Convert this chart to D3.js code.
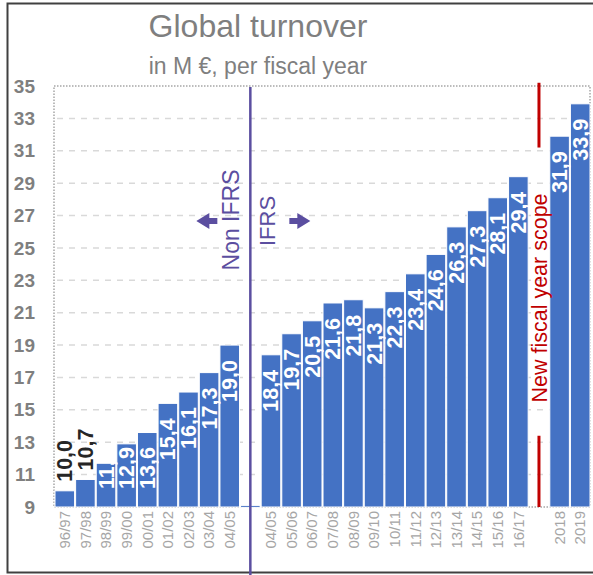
<!DOCTYPE html>
<html>
<head>
<meta charset="utf-8">
<script src="https://cdn.jsdelivr.net/npm/d3@7"></script>
<style>
  body { margin: 0; background: #fff; }
  svg { display: block; font-family: "Liberation Sans", Arial, sans-serif; }
</style>
</head>
<body>
<div id="chart"></div>
<script>
// fiscal years; "" = empty slot between the periods
var categories = ["96/97", "97/98", "98/99", "99/00", "00/01", "01/02", "02/03", "03/04", "04/05", "",
                  "04/05", "05/06", "06/07", "07/08", "08/09", "09/10", "10/11", "11/12", "12/13",
                  "13/14", "14/15", "15/16", "16/17", "", "2018", "2019"];
// turnover in M EUR (null = no bar)
var turnover = [10.0, 10.7, 11.7, 12.9, 13.6, 15.4, 16.1, 17.3, 19.0, 9.1,
                18.4, 19.7, 20.5, 21.6, 21.8, 21.3, 22.3, 23.4, 24.6,
                26.3, 27.3, 28.1, 29.4, null, 31.9, 33.9];
var yTicks = [9, 11, 13, 15, 17, 19, 21, 23, 25, 27, 29, 31, 33, 35];

var width = 593, height = 575;
// plot area (note: "top" is reserved on window, so use plot* names)
var plotLeft = 55, plotRight = 590, plotTop = 86, plotBottom = 507;
var BAR_COLOR = "#4472c4";

var svg = d3.select("#chart").append("svg")
    .attr("width", width)
    .attr("height", height);

// outer frame
svg.append("rect")
    .attr("x", 7.5).attr("y", 3.5)
    .attr("width", 600).attr("height", 569)
    .attr("fill", "none")
    .attr("stroke", "#404040")
    .attr("stroke-width", 2);

// titles
svg.append("text")
    .attr("x", 258).attr("y", 37)
    .attr("text-anchor", "middle")
    .attr("font-size", 32)
    .attr("fill", "#7f7f7f")
    .text("Global turnover");
svg.append("text")
    .attr("x", 258).attr("y", 74)
    .attr("text-anchor", "middle")
    .attr("font-size", 23)
    .attr("fill", "#7f7f7f")
    .text("in M €, per fiscal year");

var x = d3.scaleBand()
    .domain(d3.range(categories.length))
    .range([plotLeft, plotRight])
    .paddingInner(0.05);

var y = d3.scaleLinear()
    .domain([9, 35])
    .range([plotBottom, plotTop]);

// grid
svg.append("g")
    .selectAll("line")
    .data(yTicks.slice(1, -1))
    .enter()
    .append("line")
    .attr("x1", plotLeft + 2).attr("x2", plotRight)
    .attr("y1", function(d){ return y(d); })
    .attr("y2", function(d){ return y(d); })
    .attr("stroke", "#d9d9d9")
    .attr("stroke-width", 1.5)
    .attr("stroke-dasharray", "6,6");

// y axis labels
var yAxis = svg.append("g")
    .attr("transform", "translate(35,0)")
    .call(d3.axisLeft(y).tickValues(yTicks).tickSize(0).tickPadding(0));
yAxis.select(".domain").remove();
yAxis.selectAll("text")
    .attr("font-family", "Liberation Sans, Arial, sans-serif")
    .attr("font-size", 19)
    .attr("font-weight", "bold")
    .attr("fill", "#7f7f7f");

// plot border (dotted)
svg.append("rect")
    .attr("x", plotLeft - 1).attr("y", plotTop)
    .attr("width", plotRight - plotLeft + 1).attr("height", plotBottom - plotTop)
    .attr("fill", "none")
    .attr("stroke", "#a6a6a6")
    .attr("stroke-width", 1.5)
    .attr("stroke-dasharray", "1.5,1.5");

// bars
var bars = turnover.map(function(v, i){ return { i: i, v: v }; })
    .filter(function(d){ return d.v !== null; });

svg.append("g")
    .selectAll("rect")
    .data(bars)
    .enter()
    .append("rect")
    .attr("x", function(d){ return x(d.i); })
    .attr("width", x.bandwidth())
    .attr("y", function(d){ return y(d.v); })
    .attr("height", function(d){ return Math.max(2, plotBottom - y(d.v)); })
    .attr("fill", BAR_COLOR)
    .attr("stroke", "#fff")
    .attr("stroke-width", 1);

// x labels
svg.append("g")
    .selectAll("text")
    .data(categories.map(function(c, i){ return { i: i, c: c }; }))
    .enter()
    .append("text")
    .attr("transform", function(d){
        return "translate(" + (x(d.i) + x.bandwidth() / 2) + "," + (plotBottom + 4) + ") rotate(-90)";
    })
    .attr("dy", "0.35em")
    .attr("text-anchor", "end")
    .attr("font-size", 15)
    .attr("fill", "#a6a6a6")
    .text(function(d){ return d.c; });

// value labels
svg.append("clipPath").attr("id", "plotClip")
    .append("rect")
    .attr("x", plotLeft).attr("y", plotTop - 40)
    .attr("width", plotRight - plotLeft).attr("height", plotBottom - plotTop + 40);

var labelG = svg.append("g").attr("clip-path", "url(#plotClip)");
bars.filter(function(d){ return d.v > 9.5; }).forEach(function(d){
    var cx = x(d.i) + x.bandwidth() / 2;
    var barTop = y(d.v);
    var t = labelG.append("text")
        .attr("dy", "0.35em")
        .attr("font-size", 21.5)
        .attr("font-weight", "bold")
        .text(d3.format(".1f")(d.v).replace(".", ","));
    var len = t.node().getComputedTextLength();
    if (plotBottom - barTop < len) {
        // too short: label sits above the bar
        t.attr("transform", "translate(" + cx + "," + (barTop - 9) + ") rotate(-90)")
            .attr("text-anchor", "start")
            .attr("fill", "#262626");
    } else {
        var end = Math.min(barTop + 15, 489 - len);
        t.attr("transform", "translate(" + cx + "," + end + ") rotate(-90)")
            .attr("text-anchor", "end")
            .attr("fill", "#fff");
    }
});

// IFRS separator
var ifrsX = x(9) + x.bandwidth() / 2;
var PURPLE = "#5b4ea0";
svg.append("line")
    .attr("x1", ifrsX).attr("x2", ifrsX)
    .attr("y1", plotTop + 1).attr("y2", height)
    .attr("stroke", PURPLE)
    .attr("stroke-width", 2.5);

svg.append("text")
    .attr("transform", "translate(" + (ifrsX - 19) + ",220) rotate(-90)")
    .attr("dy", "0.35em")
    .attr("text-anchor", "middle")
    .attr("font-size", 23)
    .attr("fill", PURPLE)
    .text("Non IFRS");
svg.append("text")
    .attr("transform", "translate(" + (ifrsX + 17) + ",221) rotate(-90)")
    .attr("dy", "0.35em")
    .attr("text-anchor", "middle")
    .attr("font-size", 22)
    .attr("fill", PURPLE)
    .text("IFRS");

// block arrows
var arrow = d3.line();
var ay = 221;
svg.append("path")
    .attr("d", arrow([[ifrsX - 54, ay], [ifrsX - 41, ay - 8], [ifrsX - 41, ay - 3], [ifrsX - 33, ay - 3],
                      [ifrsX - 33, ay + 3], [ifrsX - 41, ay + 3], [ifrsX - 41, ay + 8]]) + "Z")
    .attr("fill", PURPLE);
svg.append("path")
    .attr("d", arrow([[ifrsX + 60, ay], [ifrsX + 47, ay - 8], [ifrsX + 47, ay - 3], [ifrsX + 39, ay - 3],
                      [ifrsX + 39, ay + 3], [ifrsX + 47, ay + 3], [ifrsX + 47, ay + 8]]) + "Z")
    .attr("fill", PURPLE);

// new fiscal year scope separator
var scopeX = x(23) + x.bandwidth() / 2;
var RED = "#c00000";
svg.append("line")
    .attr("x1", scopeX).attr("x2", scopeX)
    .attr("y1", y(35.2)).attr("y2", y(31.2))
    .attr("stroke", RED).attr("stroke-width", 3);
svg.append("line")
    .attr("x1", scopeX).attr("x2", scopeX)
    .attr("y1", y(13.4)).attr("y2", plotBottom)
    .attr("stroke", RED).attr("stroke-width", 3);
svg.append("text")
    .attr("transform", "translate(" + scopeX + ",298) rotate(-90)")
    .attr("dy", "0.35em")
    .attr("text-anchor", "middle")
    .attr("font-size", 21.5)
    .attr("fill", RED)
    .text("New fiscal year scope");
</script>
</body>
</html>
